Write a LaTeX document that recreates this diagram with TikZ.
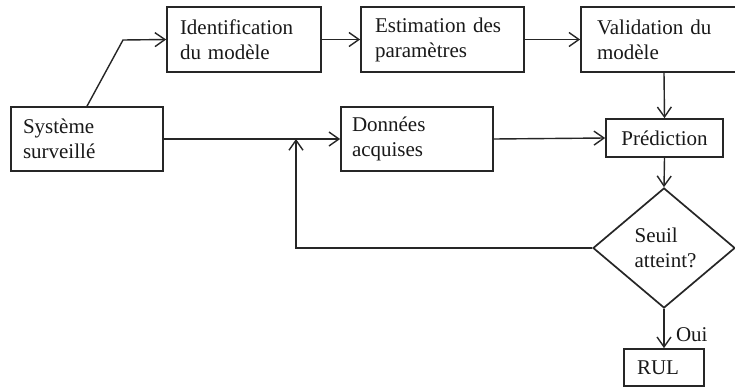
\documentclass[tikz,border=0pt]{standalone}
\usepackage{fontspec}
\setmainfont{Liberation Serif}
\usetikzlibrary{arrows.meta,shapes.geometric}

\tikzset{
  line/.style={line width=1.4pt, draw=black!85},
  flow/.style={line, -{Straight Barb[length=10pt,width=14pt,line width=1.4pt]}},
  box/.style={draw=black!85, line width=1.7pt, fill=white, align=left,
    font=\fontsize{21}{25}\selectfont, text=black!90,
    inner ysep=0pt, minimum height=#1},
  box/.default=65pt,
  label text/.style={font=\fontsize{21}{25}\selectfont, text=black!90}
}

\begin{document}
\begin{tikzpicture}[x=1pt,y=-1pt]
  \clip (0,0) rectangle (735,388);
  \fill[white] (0,0) rectangle (735,388);

  % process boxes
  \node[box=64pt, text width=128pt, inner xsep=12pt] (sys) at (87,139) {Système\\surveillé};
  \node[box, text width=128pt, inner xsep=13pt] (ident) at (244,39.5) {Identification\\du modèle};
  \node[box, text width=135pt, inner xsep=14pt] (estim) at (442.5,39.5) {Estimation des\\paramètres};
  \node[box, text width=134pt, inner xsep=16pt] (valid) at (664,39.5) {Validation du\\modèle};
  \node[box=64pt, text width=130pt, inner xsep=11pt] (data) at (417,139) {Données\\acquises};
  \node[box=38pt, text width=117pt, inner xsep=0pt, align=center] (pred) at (664.5,138) {Prédiction};

  % decision
  \node[diamond, draw=black!85, line width=1.7pt, inner sep=0pt,
        minimum width=142pt, minimum height=120pt, align=left,
        font=\fontsize{21}{25}\selectfont, text=black!90] (dec) at (664,248)
        {\hspace*{3pt}Seuil\\\hspace*{3pt}atteint?};

  % result
  \node[box=37pt, text width=80pt, inner xsep=0pt, align=center] (rul) at (664,367.5) {RUL\hspace*{12pt}};

  % connectors
  \coordinate (bend) at (123,40);
  \coordinate (join) at (296,139);
  \draw[flow] (sys.north) -- (bend) -- (ident.west);
  \draw[flow] (ident.east) -- (estim.west);
  \draw[flow] (estim.east) -- (valid.west);
  \draw[flow] (valid.south) -- (pred.north);
  \draw[flow] (sys.east) -- (data.west);
  \draw[flow] (data.east) -- (pred.west);
  \draw[flow] (pred.south) -- (dec.north);
  \draw[flow] (dec.south) -- node[label text, right, xshift=8pt, yshift=-6pt] (oui) {Oui} (rul.north);
  \draw[flow] (dec.west) -| (join);
\end{tikzpicture}
\end{document}
